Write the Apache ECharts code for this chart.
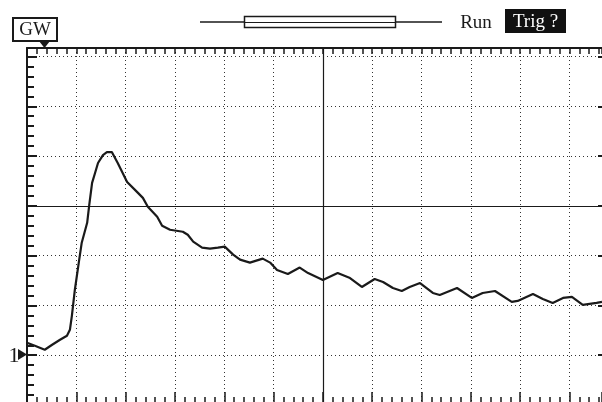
<!DOCTYPE html>
<html>
<head>
<meta charset="utf-8">
<script src="https://cdn.jsdelivr.net/npm/echarts@6/dist/echarts.min.js"></script>
<style>
  html, body { margin: 0; padding: 0; background: #fff; overflow: hidden; }
  /* the screen graticule runs a few pixels past the bottom of the capture */
  #main { width: 602px; height: 405px; }
</style>
</head>
<body>
<div id="main"></div>
<script>
// trace, in screen divisions (x from left edge, y from centre line)
var timeDiv = [0, 0.16, 0.36, 0.51, 0.67, 0.81, 0.87, 0.91, 0.97, 1.05, 1.11, 1.22, 1.26, 1.32, 1.38,
    1.44, 1.54, 1.62, 1.72, 1.84, 2.03, 2.23, 2.35, 2.45, 2.64, 2.74, 2.90, 3.16, 3.26, 3.37, 3.55,
    3.71, 3.87, 4.01, 4.18, 4.32, 4.52, 4.78, 4.93, 5.07, 5.29, 5.53, 5.70, 6.00, 6.30, 6.55, 6.79,
    7.05, 7.22, 7.42, 7.60, 7.76, 7.97, 8.23, 8.37, 8.72, 9.02, 9.24, 9.49, 9.83, 9.95, 10.26, 10.46,
    10.66, 10.87, 11.05, 11.27, 11.55, 11.66];
var voltDiv = [-2.75, -2.81, -2.89, -2.79, -2.69, -2.61, -2.49, -2.21, -1.69, -1.14, -0.74, -0.34, 0, 0.46, 0.66,
    0.86, 1.02, 1.08, 1.08, 0.86, 0.48, 0.28, 0.16, -0.02, -0.22, -0.40, -0.48, -0.52, -0.58, -0.72, -0.84,
    -0.86, -0.84, -0.82, -0.98, -1.08, -1.14, -1.06, -1.14, -1.29, -1.37, -1.24, -1.35, -1.49, -1.35, -1.45, -1.63,
    -1.47, -1.53, -1.65, -1.71, -1.63, -1.55, -1.75, -1.79, -1.65, -1.85, -1.75, -1.71, -1.93, -1.91, -1.77, -1.87,
    -1.95, -1.85, -1.83, -1.99, -1.95, -1.93];

var xMin = 0, xMax = 11.66;   // visible part of the graticule
var yMin = -4, yMax = 3.17;
var centreX = 6, centreY = 0;

var serif = '"Liberation Serif", "DejaVu Serif", serif';
var ink = '#1a1a1a';

var chart = echarts.init(document.getElementById('main'));

var dotted = { show: true, showMinLine: false, showMaxLine: false,
    lineStyle: { color: '#333', width: 1, type: [1, 3] } };

var points = timeDiv.map(function(t, i) { return [t, voltDiv[i]]; });

var option = {
    animation: false,
    backgroundColor: '#fff',
    grid: { left: 27, right: 0, top: 48, bottom: 0, containLabel: false },
    xAxis: [{
        type: 'value', position: 'top', min: xMin, max: xMax, interval: 1,
        axisLine: { show: true, onZero: false, lineStyle: { color: ink, width: 2 } },
        axisTick: { show: true, inside: true, length: 6, lineStyle: { color: ink, width: 1.5 } },
        minorTick: { show: true, splitNumber: 5, length: 6, lineStyle: { color: ink, width: 1.5 } },
        axisLabel: { show: false },
        splitLine: dotted
    }, {
        type: 'value', position: 'bottom', min: xMin, max: xMax, interval: 1,
        axisLine: { show: true, onZero: false, lineStyle: { color: ink, width: 2 } },
        axisTick: { show: true, inside: true, length: 13, lineStyle: { color: ink, width: 1.5 } },
        minorTick: { show: true, splitNumber: 5, length: 8, lineStyle: { color: ink, width: 1.5 } },
        axisLabel: { show: false },
        splitLine: { show: false }
    }],
    yAxis: [{
        type: 'value', position: 'left', min: yMin, max: yMax, interval: 1,
        axisLine: { show: true, onZero: false, lineStyle: { color: ink, width: 2 } },
        axisTick: { show: true, inside: true, length: 10, lineStyle: { color: ink, width: 2 } },
        minorTick: { show: true, splitNumber: 5, length: 7, lineStyle: { color: ink, width: 2 } },
        axisLabel: { show: false },
        splitLine: dotted
    }, {
        type: 'value', position: 'right', min: yMin, max: yMax, interval: 1,
        axisLine: { show: false, onZero: false },
        axisTick: { show: true, inside: true, length: 4, lineStyle: { color: ink, width: 2 } },
        axisLabel: { show: false },
        splitLine: { show: false }
    }],
    series: [{
        type: 'line',
        data: points,
        showSymbol: false,
        lineStyle: { color: ink, width: 2.2 },
        markLine: {
            silent: true,
            symbol: 'none',
            label: { show: false },
            lineStyle: { color: ink, width: 1.2, type: 'solid' },
            data: [{ xAxis: centreX }, { yAxis: centreY }]
        },
        z: 3
    }],
    graphic: [
        // GW box + trigger position marker
        { type: 'rect', shape: { x: 13, y: 18, width: 44, height: 23 },
          style: { fill: '#fff', stroke: ink, lineWidth: 2 } },
        { type: 'text', x: 35, y: 30,
          style: { text: 'GW', font: '19px ' + serif, fill: ink, align: 'center', verticalAlign: 'middle' } },
        { type: 'polygon', shape: { points: [[39, 41], [50, 41], [44.5, 48]] }, style: { fill: ink } },
        // record bar
        { type: 'line', shape: { x1: 200, y1: 22, x2: 442, y2: 22 }, style: { stroke: ink, lineWidth: 1.5 } },
        { type: 'rect', shape: { x: 244.5, y: 16.5, width: 151, height: 11 },
          style: { fill: '#fff', stroke: ink, lineWidth: 1.5 } },
        { type: 'line', shape: { x1: 245, y1: 22.5, x2: 395, y2: 22.5 }, style: { stroke: ink, lineWidth: 1 } },
        { type: 'text', x: 476, y: 23,
          style: { text: 'Run', font: '19px ' + serif, fill: ink, align: 'center', verticalAlign: 'middle' } },
        { type: 'rect', shape: { x: 505, y: 9, width: 61, height: 24 }, style: { fill: '#111' } },
        { type: 'text', x: 535.5, y: 22,
          style: { text: 'Trig ?', font: '19px ' + serif, fill: '#fff', align: 'center', verticalAlign: 'middle' } },
        // channel 1 ground marker
        { type: 'text', x: 14, y: 356,
          style: { text: '1', font: '22px ' + serif, fill: ink, align: 'center', verticalAlign: 'middle' } },
        { type: 'polygon', shape: { points: [[18, 349], [18, 360], [27, 354.5]] }, style: { fill: ink } }
    ]
};

chart.setOption(option);
</script>
</body>
</html>
